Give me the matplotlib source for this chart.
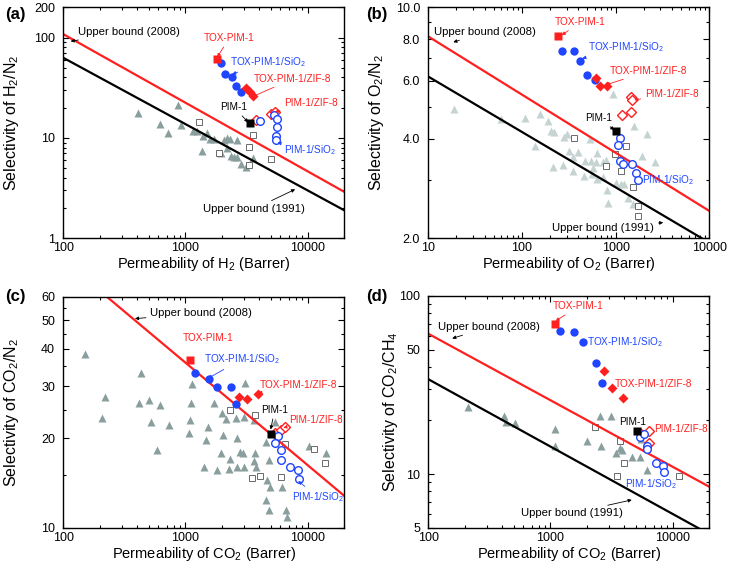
import matplotlib
matplotlib.use('Agg')
import matplotlib.pyplot as plt
from matplotlib.ticker import FixedLocator, FixedFormatter, NullFormatter

plt.rcParams['font.family'] = ['Liberation Sans', 'DejaVu Sans']
plt.rcParams['mathtext.fontset'] = 'custom'
plt.rcParams['mathtext.rm'] = 'Liberation Sans'
plt.rcParams['mathtext.it'] = 'Liberation Sans:italic'
plt.rcParams['mathtext.bf'] = 'Liberation Sans:bold'
plt.rcParams['mathtext.default'] = 'regular'

# ---------------- Panel (a): H2/N2 ----------------
a_tri_x = [406, 623, 721, 866, 921, 1156, 1247, 1397, 1489, 1585, 1710, 1371, 2172, 2313,
           2065, 2660, 2198, 2371, 2494, 2660, 2870, 3113, 3597, 1940]
a_tri_y = [17.7, 13.7, 11.3, 21.2, 13.5, 11.8, 11.7, 10.4, 11.3, 9.7, 9.7, 7.4, 10.0, 9.7,
           9.5, 9.5, 7.9, 6.6, 6.4, 6.4, 5.5, 5.1, 6.3, 7.0]
a_sq_x = [1303, 1879, 3597, 3320, 5000, 3320]
a_sq_y = [14.5, 7.1, 10.7, 8.1, 6.1, 5.4]
a_tox_x = [1820]
a_tox_y = [61]
a_toxsi_x = [1940, 2094, 2404, 2575, 2870]
a_toxsi_y = [55.4, 43.2, 40.6, 32.9, 28.6]
a_toxzif_x = [3155, 3380, 3575]
a_toxzif_y = [31.2, 28.4, 25.9]
a_pim_x = [3350]
a_pim_y = [14.0]
a_pimzif_x = [3785, 5000, 5400]
a_pimzif_y = [15.2, 17.4, 18.1]
a_pimsi_x = [4085, 5320, 5600, 5665, 5520, 5520]
a_pimsi_y = [14.9, 16.8, 15.5, 12.8, 10.4, 9.5]
a_ub2008_x = [100, 20000]
a_ub2008_y = [108, 2.9]
a_ub1991_x = [100, 20000]
a_ub1991_y = [62.8, 1.9]

# ---------------- Panel (b): O2/N2 ----------------
b_tri_x = [19.0, 59.2, 109, 156, 188, 202, 220, 300, 281, 532, 139, 320, 399, 353, 471, 546,
           627, 617, 739, 782, 216, 272, 353, 459, 554, 627, 739, 801, 835, 578, 944, 1581,
           2142, 1926, 2630, 1140, 1239, 1000, 1365, 1545]
b_tri_y = [4.92, 4.58, 4.62, 4.77, 4.54, 4.21, 4.19, 4.13, 4.04, 3.99, 3.81, 3.67, 3.66, 3.52,
           3.43, 3.43, 3.63, 3.41, 3.41, 3.44, 3.28, 3.33, 3.20, 3.09, 3.13, 3.02, 3.06, 2.80,
           2.56, 3.26, 5.46, 4.36, 4.14, 3.55, 3.40, 2.91, 2.91, 2.93, 2.64, 2.54]
b_sq_x = [359, 782, 984, 1280, 1129, 1531, 1745, 1718]
b_sq_y = [4.02, 3.30, 3.60, 3.81, 3.20, 2.85, 2.51, 2.34]
b_tox_x = [244]
b_tox_y = [8.16]
b_toxsi_x = [265, 359, 420, 490, 606]
b_toxsi_y = [7.35, 7.40, 6.90, 6.24, 6.03]
b_toxzif_x = [617, 680, 802]
b_toxzif_y = [6.10, 5.78, 5.76]
b_pim_x = [1000]
b_pim_y = [4.22]
b_pimzif_x = [1170, 1459, 1447, 1507]
b_pimzif_y = [4.73, 4.81, 5.35, 5.24]
b_pimsi_x = [1111, 1067, 1111, 1208, 1483, 1636, 1718]
b_pimsi_y = [4.01, 3.83, 3.43, 3.35, 3.35, 3.15, 3.0]
b_ub2008_x = [10, 10000]
b_ub2008_y = [8.16, 2.42]
b_ub1991_x = [10, 10000]
b_ub1991_y = [6.17, 1.94]

# ---------------- Panel (c): CO2/N2 ----------------
c_tri_x = [150, 430, 1127, 219, 419, 506, 619, 1107, 1730, 209, 519, 729, 1091, 1079, 1517,
           1479, 2050, 1989, 2159, 2593, 2643, 581, 1963, 2300, 2797, 2980, 3690, 3645, 4845,
           2660, 3015, 3757, 2270, 1416, 4690, 4930, 6150, 4550, 4845, 6640, 6760, 10330,
           14160, 3015, 3645, 5420, 4600, 3076, 1800]
c_tri_y = [38.6, 33.2, 30.5, 27.5, 26.4, 27.0, 26.0, 26.4, 26.3, 23.5, 22.7, 22.2, 23.0, 20.9,
           21.8, 19.7, 20.6, 24.4, 23.3, 23.5, 20.0, 18.3, 17.8, 17.1, 18.0, 17.9, 17.9, 16.8,
           16.9, 16.0, 16.0, 16.0, 15.8, 16.0, 14.5, 13.7, 13.7, 12.4, 11.5, 11.5, 10.9, 18.8,
           17.8, 23.6, 23.0, 22.7, 19.5, 30.8, 15.6]
c_sq_x = [2312, 3690, 6550, 3480, 4055, 6040, 11200, 13870]
c_sq_y = [25.0, 23.9, 19.2, 14.7, 14.9, 14.8, 18.4, 16.5]
c_tox_x = [1099]
c_tox_y = [36.6]
c_toxsi_x = [1194, 1556, 1821, 2342, 2608]
c_toxsi_y = [33.1, 31.6, 29.8, 29.7, 26.1]
c_toxzif_x = [2742, 3212, 3956]
c_toxzif_y = [27.6, 27.1, 28.3]
c_pim_x = [5060]
c_pim_y = [20.7]
c_pimzif_x = [5458, 6110, 6510]
c_pimzif_y = [20.9, 21.4, 21.9]
c_pimsi_x = [5740, 5395, 6040, 6110, 7210, 8380, 8490]
c_pimsi_y = [20.4, 19.3, 18.3, 16.9, 16.0, 15.6, 14.6]
c_ub2008_x = [100, 20000]
c_ub2008_y = [79.6, 12.8]

# ---------------- Panel (d): CO2/CH4 ----------------
d_tri_x = [210, 419, 435, 515, 1099, 1099, 2000, 2576, 2528, 3113, 3420, 3715, 3835, 4635,
           5395, 6235, 5490]
d_tri_y = [23.7, 21.2, 19.7, 19.3, 17.8, 14.4, 15.4, 14.4, 21.2, 21.2, 13.2, 14.1, 13.6, 12.5,
           12.4, 10.6, 15.7]
d_sq_x = [2300, 3715, 4010, 3480, 11350]
d_sq_y = [18.5, 15.3, 11.6, 9.7, 9.7]
d_tox_x = [1099]
d_tox_y = [69.6]
d_toxsi_x = [1208, 1555, 1845, 2344, 2627]
d_toxsi_y = [63.2, 62.4, 55.1, 42.3, 32.4]
d_toxzif_x = [2760, 3213, 3955]
d_toxzif_y = [37.7, 30.6, 26.7]
d_pim_x = [5090]
d_pim_y = [17.5]
d_pimzif_x = [5420, 6430, 6430]
d_pimzif_y = [17.1, 17.5, 15.0]
d_pimsi_x = [5420, 5845, 6230, 6150, 7290, 8380, 8540]
d_pimsi_y = [16.2, 16.7, 14.3, 13.8, 11.6, 11.1, 10.3]
d_ub2008_x = [100, 20000]
d_ub2008_y = [61.4, 8.49]
d_ub1991_x = [100, 20000]
d_ub1991_y = [34.1, 4.6]

RED = '#ff1f1f'
BLUE = '#1f45ff'
GRAY = '#8a9e9e'
LGRAY = '#c6d3d3'
SQC = '#6a6a6a'

W, H = 729, 572
fig = plt.figure(figsize=(W / 100, H / 100), dpi=100)


def add_ax(l, t, r, b):
    return fig.add_axes([l / W, 1 - b / H, (r - l) / W, (b - t) / H])


def draw(ax, tri, tri_c, sq, tox, toxsi, toxzif, pim, pimzif, pimsi, lines):
    ax.plot(tri[0], tri[1], ls='none', marker='^', ms=5.2, color=tri_c, mec='none', zorder=1)
    ax.plot(sq[0], sq[1], ls='none', marker='s', ms=4, mfc='white', mec=SQC, mew=0.7, zorder=1.5)
    for lx, ly, lc in lines:
        ax.plot(lx, ly, color=lc, lw=1.6, zorder=2)
    ax.plot(toxsi[0], toxsi[1], ls='none', marker='o', ms=6, color=BLUE, mec='none', zorder=3)
    ax.plot(tox[0], tox[1], ls='none', marker='s', ms=6, color=RED, mec='none', zorder=3)
    ax.plot(toxzif[0], toxzif[1], ls='none', marker='D', ms=5, color=RED, mec='none', zorder=3)
    ax.plot(pim[0], pim[1], ls='none', marker='s', ms=6, color='black', mec='none', zorder=4)
    ax.plot(pimzif[0], pimzif[1], ls='none', marker='D', ms=5, mfc='white', mec=RED, mew=1.0, zorder=3)
    ax.plot(pimsi[0], pimsi[1], ls='none', marker='o', ms=5.5, mfc='white', mec=BLUE, mew=1.0, zorder=3)


def style(ax, xlim, ylim, xmaj, xmin, ymaj, ylabels, ymin, xlabel, ylabel, ylx):
    ax.set_xscale('log')
    ax.set_yscale('log')
    ax.set_xlim(*xlim)
    ax.set_ylim(*ylim)
    ax.xaxis.set_major_locator(FixedLocator(xmaj))
    ax.xaxis.set_major_formatter(FixedFormatter([str(v) for v in xmaj]))
    ax.xaxis.set_minor_locator(FixedLocator(xmin))
    ax.xaxis.set_minor_formatter(NullFormatter())
    ax.yaxis.set_major_locator(FixedLocator(ymaj))
    ax.yaxis.set_major_formatter(FixedFormatter(ylabels))
    ax.yaxis.set_minor_locator(FixedLocator(ymin))
    ax.yaxis.set_minor_formatter(NullFormatter())
    ax.tick_params(which='both', direction='in', top=True, right=True, labelsize=9, width=0.8)
    ax.tick_params(which='major', length=4.5)
    ax.tick_params(which='minor', length=2.5)
    ax.tick_params(axis='x', which='major', pad=3)
    ax.tick_params(axis='y', which='major', pad=6)
    for s in ax.spines.values():
        s.set_linewidth(1.0)
    ax.set_xlabel(xlabel, fontsize=10.5)
    ax.set_ylabel(ylabel, fontsize=11.5)
    ax.xaxis.set_label_coords(0.5, -0.112)
    ax.xaxis.label.set_va('center')
    ax.yaxis.set_label_coords(ylx, 0.5)
    ax.yaxis.label.set_va('center')


def lab(ax, text, color, txy, axy=None, fs=7.2, ha='center'):
    if axy is None:
        ax.text(txy[0], txy[1], text, color=color, fontsize=fs, ha=ha, va='center',
                transform=ax.transAxes, zorder=5)
    else:
        ax.annotate(text, xy=axy, xycoords='axes fraction', xytext=txy,
                    textcoords='axes fraction', color=color, fontsize=fs, ha=ha, va='center',
                    zorder=5,
                    arrowprops=dict(arrowstyle='-|>', color=color, lw=0.6, mutation_scale=5,
                                    shrinkA=1, shrinkB=0))


dec_minor_100 = [200, 300, 400, 500, 600, 700, 800, 900, 2000, 3000, 4000, 5000, 6000,
                 7000, 8000, 9000, 20000]
dec_minor_10 = [20, 30, 40, 50, 60, 70, 80, 90, 200, 300, 400, 500, 600, 700, 800, 900,
                2000, 3000, 4000, 5000, 6000, 7000, 8000, 9000]

# (a)
ax = add_ax(63.3, 7.3, 344.3, 238.3)
draw(ax, (a_tri_x, a_tri_y), GRAY, (a_sq_x, a_sq_y), (a_tox_x, a_tox_y),
     (a_toxsi_x, a_toxsi_y), (a_toxzif_x, a_toxzif_y), (a_pim_x, a_pim_y),
     (a_pimzif_x, a_pimzif_y), (a_pimsi_x, a_pimsi_y),
     [(a_ub2008_x, a_ub2008_y, RED), (a_ub1991_x, a_ub1991_y, 'black')])
style(ax, (100, 20000), (1, 200), [100, 1000, 10000], dec_minor_100,
      [1, 10, 100, 200], ['1', '10', '100', '200'],
      [2, 3, 4, 5, 6, 7, 8, 9, 20, 30, 40, 50, 60, 70, 80, 90],
      'Permeability of H$_2$ (Barrer)', 'Selectivity of H$_2$/N$_2$', -0.186)
lab(ax, 'Upper bound (2008)', 'black', (0.052, 0.893), (0.026, 0.853), fs=8.2, ha='left')
lab(ax, 'Upper bound (1991)', 'black', (0.679, 0.127), (0.825, 0.212), fs=8.2)
lab(ax, 'TOX-PIM-1', RED, (0.590, 0.867), (0.548, 0.784))
lab(ax, 'TOX-PIM-1/SiO$_2$', BLUE, (0.728, 0.763), (0.601, 0.711))
lab(ax, 'TOX-PIM-1/ZIF-8', RED, (0.817, 0.690), (0.673, 0.613))
lab(ax, 'PIM-1', 'black', (0.607, 0.568), (0.658, 0.502))
lab(ax, 'PIM-1/ZIF-8', RED, (0.881, 0.586), (0.753, 0.547))
lab(ax, 'PIM-1/SiO$_2$', BLUE, (0.878, 0.382), (0.762, 0.414))

# (b)
ax = add_ax(428.3, 7.3, 709.3, 238.3)
draw(ax, (b_tri_x, b_tri_y), LGRAY, (b_sq_x, b_sq_y), (b_tox_x, b_tox_y),
     (b_toxsi_x, b_toxsi_y), (b_toxzif_x, b_toxzif_y), (b_pim_x, b_pim_y),
     (b_pimzif_x, b_pimzif_y), (b_pimsi_x, b_pimsi_y),
     [(b_ub2008_x, b_ub2008_y, RED), (b_ub1991_x, b_ub1991_y, 'black')])
style(ax, (10, 10000), (2, 10), [10, 100, 1000, 10000], dec_minor_10,
      [2, 4, 6, 8, 10], ['2.0', '4.0', '6.0', '8.0', '10.0'], [3, 5, 7, 9],
      'Permeability of O$_2$ (Barrer)', 'Selectivity of O$_2$/N$_2$', -0.186)
lab(ax, 'Upper bound (2008)', 'black', (0.020, 0.893), (0.089, 0.849), fs=8.2, ha='left')
lab(ax, 'Upper bound (1991)', 'black', (0.623, 0.045), (0.836, 0.068), fs=8.2)
lab(ax, 'TOX-PIM-1', RED, (0.542, 0.936), (0.475, 0.879))
lab(ax, 'TOX-PIM-1/SiO$_2$', BLUE, (0.704, 0.826), (0.548, 0.779))
lab(ax, 'TOX-PIM-1/ZIF-8', RED, (0.784, 0.724), (0.632, 0.664))
lab(ax, 'PIM-1', 'black', (0.606, 0.520), (0.662, 0.469))
lab(ax, 'PIM-1/ZIF-8', RED, (0.866, 0.625), (0.733, 0.599))
lab(ax, 'PIM-1/SiO$_2$', BLUE, (0.851, 0.252))

# (c)
ax = add_ax(63.3, 296.7, 344.3, 527.7)
draw(ax, (c_tri_x, c_tri_y), GRAY, (c_sq_x, c_sq_y), (c_tox_x, c_tox_y),
     (c_toxsi_x, c_toxsi_y), (c_toxzif_x, c_toxzif_y), (c_pim_x, c_pim_y),
     (c_pimzif_x, c_pimzif_y), (c_pimsi_x, c_pimsi_y),
     [(c_ub2008_x, c_ub2008_y, RED)])
style(ax, (100, 20000), (10, 60), [100, 1000, 10000], dec_minor_100,
      [10, 20, 30, 40, 50, 60], ['10', '20', '30', '40', '50', '60'], [15, 25, 35, 45, 55],
      'Permeability of CO$_2$ (Barrer)', 'Selectivity of CO$_2$/N$_2$', -0.186)
lab(ax, 'Upper bound (2008)', 'black', (0.309, 0.929), (0.255, 0.905), fs=8.2, ha='left')
lab(ax, 'TOX-PIM-1', RED, (0.515, 0.820))
lab(ax, 'TOX-PIM-1/SiO$_2$', BLUE, (0.636, 0.730), (0.516, 0.647))
lab(ax, 'TOX-PIM-1/ZIF-8', RED, (0.835, 0.618), (0.694, 0.582))
lab(ax, 'PIM-1', 'black', (0.752, 0.510), (0.738, 0.425))
lab(ax, 'PIM-1/ZIF-8', RED, (0.899, 0.466), (0.783, 0.433))
lab(ax, 'PIM-1/SiO$_2$', BLUE, (0.906, 0.133), (0.836, 0.202))

# (d)
ax = add_ax(428.3, 296.0, 709.3, 527.7)
draw(ax, (d_tri_x, d_tri_y), GRAY, (d_sq_x, d_sq_y), (d_tox_x, d_tox_y),
     (d_toxsi_x, d_toxsi_y), (d_toxzif_x, d_toxzif_y), (d_pim_x, d_pim_y),
     (d_pimzif_x, d_pimzif_y), (d_pimsi_x, d_pimsi_y),
     [(d_ub2008_x, d_ub2008_y, RED), (d_ub1991_x, d_ub1991_y, 'black')])
style(ax, (100, 20000), (5, 100), [100, 1000, 10000], dec_minor_100,
      [5, 10, 50, 100], ['5', '10', '50', '100'],
      [6, 7, 8, 9, 20, 30, 40, 60, 70, 80, 90],
      'Permeability of CO$_2$ (Barrer)', 'Selectivity of CO$_2$/CH$_4$', -0.133)
lab(ax, 'Upper bound (2008)', 'black', (0.035, 0.866), (0.085, 0.817), fs=8.2, ha='left')
lab(ax, 'Upper bound (1991)', 'black', (0.510, 0.062), (0.724, 0.120), fs=8.2)
lab(ax, 'TOX-PIM-1', RED, (0.534, 0.955), (0.453, 0.892))
lab(ax, 'TOX-PIM-1/SiO$_2$', BLUE, (0.700, 0.801))
lab(ax, 'TOX-PIM-1/ZIF-8', RED, (0.800, 0.620))
lab(ax, 'PIM-1', 'black', (0.727, 0.456))
lab(ax, 'PIM-1/ZIF-8', RED, (0.899, 0.426))
lab(ax, 'PIM-1/SiO$_2$', BLUE, (0.793, 0.189))

for txt, x, y in [('(a)', 5, 14), ('(b)', 366, 14), ('(c)', 5, 297), ('(d)', 366, 297)]:
    fig.text(x / W, 1 - y / H, txt, fontsize=12, fontweight='bold', ha='left', va='center')

fig.savefig('out.png', dpi=100)
